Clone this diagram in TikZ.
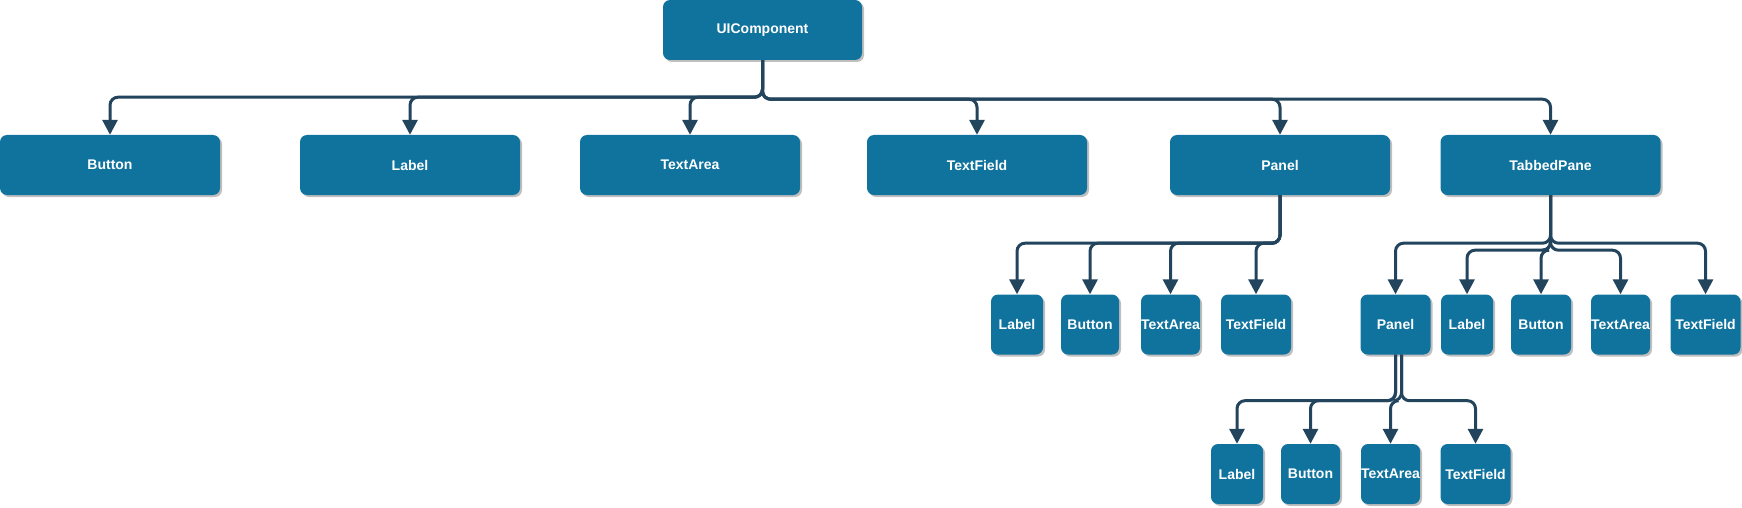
\documentclass[tikz,border=0pt]{standalone}
\usepackage{fontspec}
\setmainfont{Liberation Sans}
\usetikzlibrary{arrows.meta,shadows}
\definecolor{boxblue}{HTML}{10739E}
\definecolor{linenavy}{HTML}{23445D}
\begin{document}
\begin{tikzpicture}[x=1pt, y=-1pt,
    base/.style = {fill=boxblue, rounded corners=7pt, text=white, inner sep=0pt,
        font=\fontsize{14}{16}\selectfont\bfseries, minimum height=60,
        drop shadow={shadow xshift=2pt, shadow yshift=-2pt, fill=black, opacity=0.25}},
    box/.style = {base, minimum width=220},
    item/.style = {base, minimum width=#1},
    edge/.style = {draw=linenavy, line width=3pt, rounded corners=8pt,
        -{Triangle[length=15pt, width=15pt]}}]
    \useasboundingbox (0,0) rectangle (1742,508);
    % top
    \node[base, minimum width=199] (1) at (762.5,30) {UIComponent};
    % first row
    \node[box] (2) at (110,165) {Button};
    \node[box] (3) at (410,165) {Label};
    \node[box] (4) at (690,165) {TextArea};
    \node[box] (5) at (977,165) {TextField};
    \node[box] (6) at (1280,165) {Panel};
    \node[box] (7) at (1550.5,165) {TabbedPane};
    % second row
    \node[item=52] (8) at (1017,324.5) {Label};
    \node[item=58] (9) at (1090,324.5) {Button};
    \node[item=59] (10) at (1170.5,324.5) {TextArea};
    \node[item=70] (11) at (1256,324.5) {TextField};
    \node[item=70] (12) at (1395.5,324.5) {Panel};
    \node[item=52] (13) at (1467,324.5) {Label};
    \node[item=60] (14) at (1541,324.5) {Button};
    \node[item=59] (15) at (1620.5,324.5) {TextArea};
    \node[item=70] (16) at (1705.5,324.5) {TextField};
    % third row
    \node[item=52] (17) at (1237,474) {Label};
    \node[item=59] (18) at (1310.5,474) {Button};
    \node[item=59] (19) at (1390.5,474) {TextArea};
    \node[item=70] (20) at (1475.5,474) {TextField};
    % edges
    \draw[edge] (1.south) -- ++(0,37) -| (2.north);
    \draw[edge] (1.south) -- ++(0,37) -| (3.north);
    \draw[edge] (1.south) -- ++(0,37) -| (4.north);
    \draw[edge] (1.south) -- ++(0,39) -| (5.north);
    \draw[edge] (1.south) -- ++(0,39) -| (6.north);
    \draw[edge] (1.south) -- ++(0,39) -| (7.north);
    \draw[edge] (6.south) -- ++(0,48) -| (8.north);
    \draw[edge] (6.south) -- ++(0,48) -| (9.north);
    \draw[edge] (6.south) -- ++(0,48) -| (10.north);
    \draw[edge] (6.south) -- ++(0,48) -| (11.north);
    \draw[edge] (7.south) -- ++(0,48) -| (12.north);
    \draw[edge] (7.south) -- ++(0,55) -| (13.north);
    \draw[edge] (7.south) -- ++(0,55) -| (14.north);
    \draw[edge] (7.south) -- ++(0,55) -| (15.north);
    \draw[edge] (7.south) -- ++(0,48) -| (16.north);
    \draw[edge] (12.south) -- ++(0,46) -| (17.north);
    \draw[edge] (12.south) -- ++(0,46) -| (18.north);
    \draw[edge] ([xshift=6pt]12.south) -- ++(0,46) -| (19.north);
    \draw[edge] ([xshift=6pt]12.south) -- ++(0,46) -| (20.north);
\end{tikzpicture}
\end{document}
